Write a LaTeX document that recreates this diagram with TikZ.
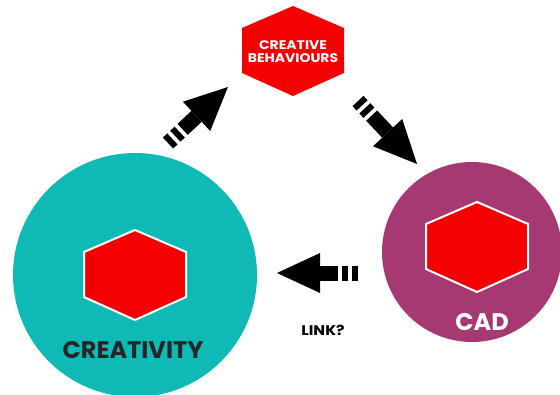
\documentclass[tikz,border=0pt]{standalone}
\usepackage{fontspec}
\setmainfont{Poppins}
\newfontfamily\widefont[FakeStretch=1.12]{Poppins}
\usetikzlibrary{arrows.meta,positioning,calc}

\definecolor{tealhub}{RGB}{14,185,182}
\definecolor{plumhub}{RGB}{166,56,114}
\definecolor{hexred}{RGB}{245,0,0}

\begin{document}
\begin{tikzpicture}[
    x=1pt, y=-1pt,
    hub/.style={circle, inner sep=0pt},
    hexa/.pic={\path[pic actions] (0,-45) -- (51,-23) -- (51,22) -- (0,45) -- (-51,22) -- (-51,-23) -- cycle;},
    hexbox/.style={fill=hexred, draw=white, line width=2pt},
    bigarrow/.style={line width=15pt, dash pattern=on 6pt off 4pt on 6pt off 4pt on 300pt off 4pt,
        -{Triangle[length=43pt,width=40pt,line width=0pt]}},
    caption/.style={font=\bfseries\fontsize{24}{25}\selectfont},
    small/.style={font=\widefont\bfseries\fontsize{12.5}{13}\selectfont}
]
    \useasboundingbox (0,0) rectangle (560,394);

    \node[hub, fill=tealhub, minimum size=244pt] (creativity) at (135,275) {};
    \node[hub, fill=plumhub, minimum size=180pt] (cad) at (472,252) {};

    \pic[hexbox] at (135,275) {hexa};
    \pic[hexbox] at (477,247) {hexa};
    \pic[hexbox, draw=none] at (293,51) {hexa};

    \node[caption, text=black!85] (creativity label) at (133,350) {CREATIVITY};
    \node[caption, text=white] (cad label) at (482,322) {CAD};
    \node[small, text=white, align=center] (behaviours) at (293,52) {CREATIVE\\BEHAVIOURS};
    \node[small, font=\widefont\bfseries\fontsize{14}{14}\selectfont] (link) at (323,330) {LINK?};

    % block arrows round the loop
    \coordinate (up tail) at (168,143);
    \coordinate (up tip) at (228,87);
    \coordinate (down tail) at (358,101);
    \coordinate (down tip) at (417,164);
    \coordinate (back tail) at (358,273);
    \coordinate (back tip) at (277,273);

    \draw[bigarrow] (up tail) -- (up tip);
    \draw[bigarrow] (down tail) -- (down tip);
    \draw[bigarrow] (back tail) -- (back tip);
\end{tikzpicture}
\end{document}
